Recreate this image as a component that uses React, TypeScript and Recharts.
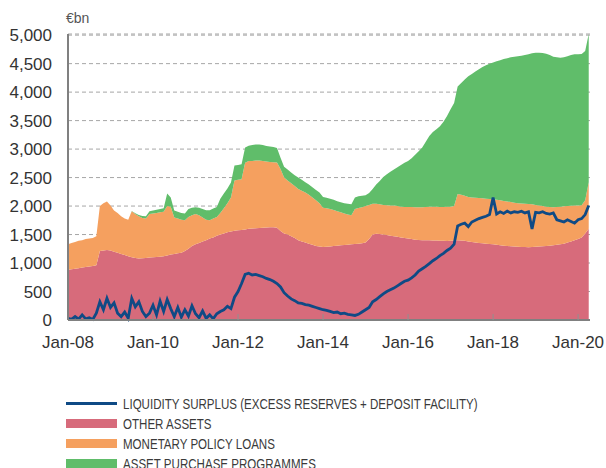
import { ComposedChart, Area, Line, XAxis, YAxis, CartesianGrid } from "recharts"

// monthly, Jan-08 .. Apr-20 (EUR bn)
const START_YEAR = 2008

const otherAssets = [
  880, 890, 900, 910, 920, 930, 940, 950, 960, 1210, 1220, 1230,
  1220, 1200, 1180, 1160, 1140, 1120, 1100, 1090, 1080, 1085, 1090, 1095,
  1100, 1105, 1110, 1120, 1130, 1150, 1160, 1170, 1180, 1210, 1250, 1300,
  1330, 1350, 1380, 1400, 1430, 1450, 1480, 1500, 1520, 1540, 1555, 1565,
  1575, 1580, 1590, 1600, 1605, 1610, 1615, 1620, 1625, 1630, 1630, 1620,
  1560, 1520, 1500, 1470, 1440, 1400, 1380, 1360, 1340, 1320, 1300, 1290,
  1280, 1285, 1290, 1300, 1305, 1310, 1315, 1320, 1330, 1335, 1340, 1345,
  1360, 1420, 1500, 1515, 1510, 1500, 1490, 1480, 1470, 1460, 1450, 1440,
  1430, 1420, 1410, 1405, 1400, 1400, 1398, 1396, 1394, 1392, 1390, 1388,
  1390, 1395, 1398, 1395, 1390, 1380, 1370, 1360, 1350, 1345, 1340, 1335,
  1330, 1320, 1310, 1305, 1300, 1295, 1290, 1285, 1282, 1280, 1278, 1280,
  1285, 1290, 1295, 1300, 1305, 1310, 1320, 1330, 1340, 1360, 1380, 1400,
  1420, 1450, 1520, 1600,
]

const policyLoans = [
  450, 460, 470, 480, 480, 490, 490, 490, 510, 790, 830, 850,
  790, 720, 700, 660, 640, 640, 810, 770, 740, 705, 690, 765,
  770, 775, 780, 780, 870, 840, 640, 610, 580, 540, 560, 540,
  530, 490, 420, 360, 320, 330, 330, 380, 440, 510, 595, 885,
  885, 890, 1170, 1190, 1185, 1190, 1185, 1170, 1155, 1145, 1140, 1145,
  1090, 980, 950, 930, 910, 900, 890, 880, 860, 830, 800, 760,
  690, 675, 660, 630, 605, 580, 555, 530, 510, 615, 625, 635,
  640, 600, 540, 525, 520, 520, 525, 530, 540, 540, 540, 545,
  555, 565, 570, 575, 580, 585, 592, 594, 596, 593, 595, 602,
  600, 605, 812, 805, 790, 780, 780, 785, 790, 790, 790, 790,
  790, 790, 790, 785, 780, 775, 770, 765, 763, 760, 757, 750,
  735, 720, 705, 690, 680, 670, 665, 660, 655, 640, 625, 610,
  590, 565, 580, 820,
]

const purchaseProgrammes = [
  0, 0, 0, 0, 0, 0, 0, 0, 0, 0, 0, 0,
  0, 0, 0, 0, 0, 0, 5, 15, 25, 35, 40, 50,
  50, 55, 60, 60, 220, 160, 120, 120, 120, 120, 140, 130,
  120, 130, 150, 165, 175, 175, 175, 250, 260, 260, 265, 260,
  260, 265, 270, 270, 280, 280, 280, 280, 275, 270, 265, 255,
  200, 190, 190, 190, 190, 200, 190, 180, 180, 180, 180, 190,
  190, 185, 180, 180, 175, 175, 180, 190, 190, 200, 205, 200,
  190, 210, 260, 340, 410, 490, 545, 590, 630, 680, 730, 775,
  805, 855, 920, 980, 1050, 1145, 1240, 1310, 1360, 1415, 1495, 1590,
  1710, 1810, 1890, 1960, 2040, 2120, 2170, 2215, 2260, 2305, 2340, 2375,
  2400, 2430, 2460, 2490, 2515, 2540, 2560, 2580, 2595, 2610, 2630, 2650,
  2670, 2680, 2685, 2685, 2665, 2640, 2625, 2615, 2615, 2630, 2645, 2655,
  2655, 2655, 2620, 2600,
]

const liquiditySurplus = [
  30, 10, 60, 15, 90, 20, 40, 10, 120, 320, 180, 380,
  220, 300, 120, 60, 140, 30, 380, 230, 320, 150, 60, 120,
  260, 90, 330, 150, 360, 200, 60, 220, 50, 180, 70, 250,
  110, 40, 160, 30, 90, 20, 110, 150, 180, 240, 200, 400,
  500, 640, 800, 820, 790, 800, 780, 760, 730, 710, 680, 640,
  580, 480, 420, 370, 340, 300, 290, 270, 260, 240, 220, 200,
  180, 170, 150, 130, 140, 110, 120, 100, 90, 80, 100, 140,
  180, 220, 320, 360, 410, 460, 500, 530, 560, 600, 640, 680,
  700, 740, 790, 860, 900, 940, 990, 1040, 1080, 1130, 1170, 1220,
  1260, 1330, 1650, 1680, 1700, 1640, 1720, 1750, 1780, 1800, 1820, 1850,
  2150, 1860, 1900, 1870, 1910, 1880, 1900, 1890, 1910, 1880, 1900, 1600,
  1890, 1880, 1900, 1870, 1860, 1880, 1760, 1740, 1720, 1760, 1730, 1700,
  1760, 1780, 1850, 2010,
]

const xTicks = [2008, 2010, 2012, 2014, 2016, 2018, 2020]
const yTicks = [0, 500, 1000, 1500, 2000, 2500, 3000, 3500, 4000, 4500, 5000]

const COLORS = {
  surplus: "#0f4a85",
  other: "#d76b7b",
  loans: "#f5a05f",
  app: "#60bd6a",
}

const LEGEND = [
  { key: "surplus", label: "LIQUIDITY SURPLUS (EXCESS RESERVES + DEPOSIT FACILITY)", line: true },
  { key: "other", label: "OTHER ASSETS" },
  { key: "loans", label: "MONETARY POLICY LOANS" },
  { key: "app", label: "ASSET PURCHASE PROGRAMMES" },
]

const data = otherAssets.map((v, i) => ({
  t: START_YEAR + i / 12,
  other: v,
  loans: policyLoans[i],
  app: purchaseProgrammes[i],
  surplus: liquiditySurplus[i],
}))

const axisFont = { fontFamily: "'Liberation Sans', Arial, sans-serif", fontSize: 17, fill: "#333" }

export default function App() {
  return (
    <div style={{ position: "absolute", left: 0, top: 0, width: 606, height: 468, background: "#fff", overflow: "hidden" }}>
      <div
        style={{
          position: "absolute", left: 66, top: 10,
          fontFamily: "'Liberation Sans', Arial, sans-serif", fontSize: 14, color: "#555",
        }}
      >
        €bn
      </div>
      <ComposedChart width={606} height={360} data={data} margin={{ top: 34, right: 16, left: 0, bottom: 0 }}>
        <CartesianGrid vertical={false} stroke="#a6a6a6" strokeDasharray="4 3" />
        <XAxis
          dataKey="t"
          type="number"
          domain={[2008, 2020.28]}
          ticks={xTicks}
          tickFormatter={(v: number) => "Jan-" + String(v).slice(2)}
          height={40}
          tick={axisFont}
          tickSize={-6}
          tickMargin={22}
          stroke="#808080"
          axisLine={{ stroke: "#808080", strokeWidth: 2 }}
          tickLine={{ stroke: "#909090" }}
          allowDataOverflow
        />
        <YAxis
          domain={[0, 5000]}
          ticks={yTicks}
          width={68}
          tick={axisFont}
          tickFormatter={(v: number) => v.toLocaleString("en-US")}
          tickLine={false}
          tickMargin={10}
          axisLine={{ stroke: "#808080", strokeWidth: 2 }}
        />
        <Area type="linear" dataKey="other" stackId="a" fill={COLORS.other} stroke="none" fillOpacity={1} isAnimationActive={false} />
        <Area type="linear" dataKey="loans" stackId="a" fill={COLORS.loans} stroke="none" fillOpacity={1} isAnimationActive={false} />
        <Area type="linear" dataKey="app" stackId="a" fill={COLORS.app} stroke="none" fillOpacity={1} isAnimationActive={false} />
        <Line type="linear" dataKey="surplus" stroke={COLORS.surplus} strokeWidth={2.8} dot={false} isAnimationActive={false} />
      </ComposedChart>
      <div style={{ position: "absolute", left: 66, top: 393 }}>
        {LEGEND.map((l) => (
          <div key={l.key} style={{ display: "flex", alignItems: "center", height: 20 }}>
            <div
              style={{
                width: 51,
                height: l.line ? 3 : 9,
                background: COLORS[l.key as keyof typeof COLORS],
                marginRight: 6,
                flexShrink: 0,
              }}
            />
            <span
              style={{
                display: "inline-block",
                fontFamily: "'Liberation Sans', Arial, sans-serif",
                fontSize: 15,
                color: "#3a3a3a",
                whiteSpace: "nowrap",
                transform: "scaleX(0.77)",
                transformOrigin: "left center",
              }}
            >
              {l.label}
            </span>
          </div>
        ))}
      </div>
    </div>
  )
}
